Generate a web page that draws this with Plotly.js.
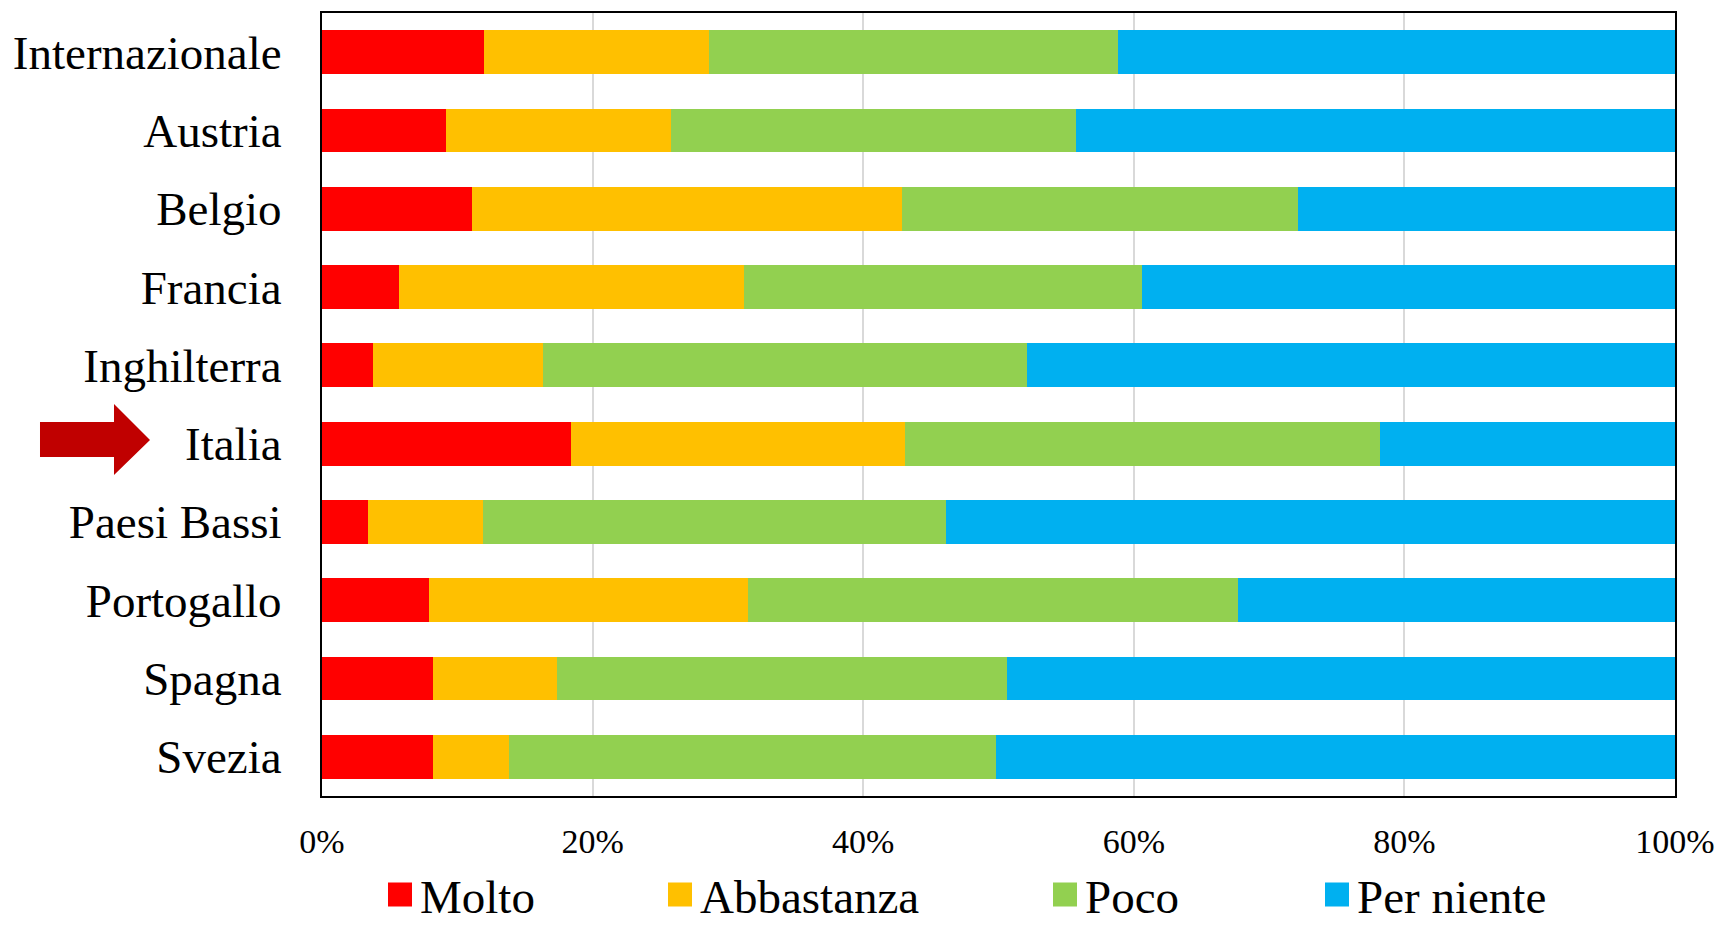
<!DOCTYPE html>
<html>
<head>
<meta charset="utf-8">
<script src="https://cdn.plot.ly/plotly-3.0.1.min.js"></script>
<style>html,body{margin:0;padding:0;background:#fff;}#chart{width:1717px;height:928px;}</style>
</head>
<body>
<div id="chart"></div>
<script>
const categories = ['Internazionale','Austria','Belgio','Francia','Inghilterra','Italia','Paesi Bassi','Portogallo','Spagna','Svezia'];
const seriesNames = ['Molto','Abbastanza','Poco','Per niente'];
const molto      = [12.0, 9.2, 11.1, 5.7, 3.8, 18.4, 3.4, 7.9, 8.2, 8.2];
const abbastanza = [16.6, 16.6, 31.8, 25.5, 12.5, 24.7, 8.5, 23.6, 9.2, 5.6];
const poco       = [30.2, 29.9, 29.2, 29.4, 35.8, 35.1, 34.2, 36.2, 33.2, 36.0];
const perNiente  = [41.2, 44.3, 27.9, 39.4, 47.9, 21.8, 53.9, 32.3, 49.4, 50.2];
const xTickVals  = [0, 20, 40, 60, 80, 100];

const colors = ['#FF0000', '#FFC000', '#92D050', '#00B0F0'];
const values = [molto, abbastanza, poco, perNiente];
const legendIds = ['legend', 'legend2', 'legend3', 'legend4'];

const W = 1717, H = 928;
const M = {l: 322, r: 42, t: 13, b: 132, autoexpand: false};
const PW = W - M.l - M.r, PH = H - M.t - M.b;
const px = x => (x - M.l) / PW;
const py = y => (H - M.b - y) / PH;

const traces = values.map((v, i) => ({
  type: 'bar',
  orientation: 'h',
  name: seriesNames[i],
  y: categories,
  x: v,
  marker: {color: colors[i], line: {width: 0}},
  legend: legendIds[i],
  hoverinfo: 'skip'
}));

// arrow pointing at Italia (pixel outline)
const arrowPts = [[40,422],[114,422],[114,404],[150,440],[114,475],[114,457],[40,457]];
const arrowPath = 'M' + arrowPts.map(p => px(p[0]).toFixed(5) + ',' + py(p[1]).toFixed(5)).join('L') + 'Z';

const legendCenters = [400, 680, 1065, 1337];
const serif = '"Liberation Serif", "Times New Roman", serif';
const legendFont = {family: serif, size: 47, color: '#000'};

const layout = {
  width: W, height: H,
  margin: M,
  paper_bgcolor: '#fff',
  plot_bgcolor: '#fff',
  barmode: 'stack',
  bargap: 0.44,
  font: {family: serif, color: '#000'},
  xaxis: {
    range: [0, 100],
    tickvals: xTickVals,
    ticktext: xTickVals.map(v => v + '%'),
    showgrid: true, gridcolor: '#d9d9d9', gridwidth: 2,
    zeroline: false,
    showline: true, mirror: true, linecolor: '#000', linewidth: 2,
    ticks: '', ticklabelstandoff: 14,
    tickfont: {size: 34, family: serif, color: '#000'},
    fixedrange: true
  },
  yaxis: {
    type: 'category',
    autorange: 'reversed',
    showgrid: false, zeroline: false,
    showline: true, mirror: true, linecolor: '#000', linewidth: 2,
    ticks: '', ticklabelstandoff: 29,
    tickfont: {size: 47, family: serif, color: '#000'},
    fixedrange: true
  },
  shapes: [{
    type: 'path', xref: 'paper', yref: 'paper',
    path: arrowPath, fillcolor: '#C00000', line: {width: 0}
  }],
  showlegend: true
};
legendIds.forEach((id, i) => {
  layout[id] = {
    orientation: 'h',
    x: px(legendCenters[i] - 20), xanchor: 'left',
    y: py(895), yanchor: 'middle',
    font: legendFont,
    bgcolor: 'rgba(0,0,0,0)', borderwidth: 0
  };
});

Plotly.newPlot('chart', traces, layout, {staticPlot: true, displayModeBar: false}).then(() => {
  document.querySelectorAll('.legendpoints path').forEach(p => {
    if (p.getAttribute('d') === 'M6,6H-6V-6H6Z') p.setAttribute('d', 'M12,12H-12V-12H12Z');
  });
});
</script>
</body>
</html>
